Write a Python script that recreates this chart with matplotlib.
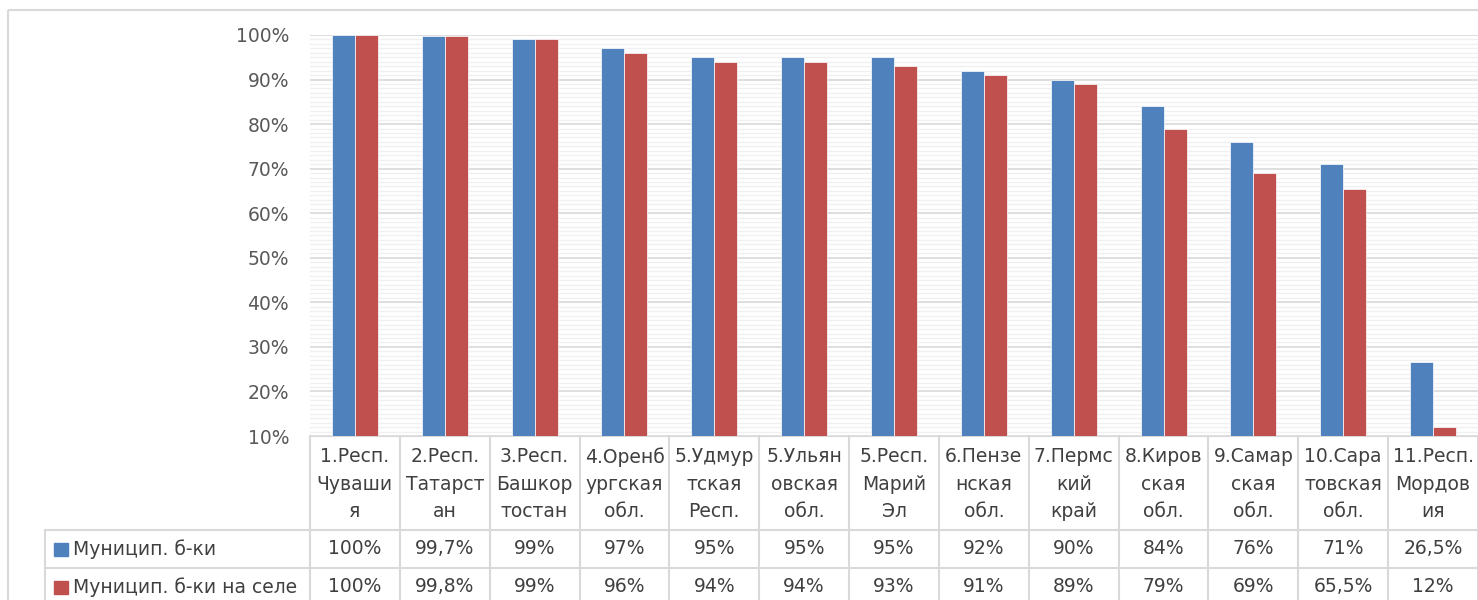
import numpy as np
import matplotlib
matplotlib.use('Agg')
import matplotlib.pyplot as plt
from matplotlib.transforms import blended_transform_factory
from matplotlib.patches import Rectangle

plt.rcParams['font.family'] = ['DejaVu Sans']

# chart data
regions = ['1.Респ.\nЧуваши\nя', '2.Респ.\nТатарст\nан', '3.Респ.\nБашкор\nтостан',
           '4.Оренб\nургская\nобл.', '5.Удмур\nтская\nРесп.', '5.Ульян\nовская\nобл.',
           '5.Респ.\nМарий\nЭл', '6.Пензе\nнская\nобл.', '7.Пермс\nкий\nкрай',
           '8.Киров\nская\nобл.', '9.Самар\nская\nобл.', '10.Сара\nтовская\nобл.',
           '11.Респ.\nМордов\nия']
series_names = ['Муницип. б-ки', 'Муницип. б-ки на селе']
libs_all = [100, 99.7, 99, 97, 95, 95, 95, 92, 90, 84, 76, 71, 26.5]
libs_rural = [100, 99.8, 99, 96, 94, 94, 93, 91, 89, 79, 69, 65.5, 12]
labels_all = ['100%', '99,7%', '99%', '97%', '95%', '95%', '95%', '92%', '90%', '84%', '76%', '71%', '26,5%']
labels_rural = ['100%', '99,8%', '99%', '96%', '94%', '94%', '93%', '91%', '89%', '79%', '69%', '65,5%', '12%']
colors = ['#4F81BD', '#C0504D']

W, H = 1478, 600
fs = 13.5
fig = plt.figure(figsize=(W / 100, H / 100), dpi=100)

# overlay in pixel coordinates for borders and the data table
over = fig.add_axes([0, 0, 1, 1], zorder=0)
over.set_xlim(0, W)
over.set_ylim(H, 0)
over.axis('off')
over.add_patch(Rectangle((8, 10), W + 20, H + 20, fill=False, ec='#d9d9d9', lw=1.5))

ax = fig.add_axes([310 / W, 1 - 436 / H, (W - 310) / W, (436 - 35) / H], zorder=1)
ax.patch.set_alpha(0)
x = np.arange(len(regions))
bw = 0.256
ax.bar(x - bw / 2, libs_all, bw, color=colors[0], edgecolor='#ffffff', linewidth=0.5, zorder=3)
ax.bar(x + bw / 2, libs_rural, bw, color=colors[1], edgecolor='#ffffff', linewidth=0.5, zorder=3)
ax.set_xlim(-0.5, len(regions) - 0.5)
ax.set_ylim(10, 100)
ax.set_yticks(np.arange(10, 101, 10))
ax.set_yticklabels([f'{v}%' for v in range(10, 101, 10)])
ax.set_yticks(np.arange(10, 101, 1), minor=True)
ax.grid(True, which='minor', axis='y', color='#f0f0f0', lw=1, zorder=0)
ax.grid(True, which='major', axis='y', color='#d9d9d9', lw=1.2, zorder=1)
ax.tick_params(axis='y', which='both', length=0, pad=15, labelsize=fs, labelcolor='#595959')
ax.tick_params(axis='x', which='both', length=0, labelbottom=False)
for s in ['top', 'right', 'left']:
    ax.spines[s].set_visible(False)
ax.spines['bottom'].set_color('#d9d9d9')

# data table under the axis
tr = blended_transform_factory(ax.transData, over.transData)
grid_c = '#d9d9d9'
txt_c = '#404040'
y_head_top, y_head_bot, y_row1_bot = 436, 530, 568
for i in range(len(regions) + 1):
    over.plot([i - 0.5, i - 0.5], [y_head_top, H + 5], color=grid_c, lw=1.5, transform=tr, clip_on=False)
over.plot([45, W], [y_head_bot, y_head_bot], color=grid_c, lw=1.5)
over.plot([45, W], [y_row1_bot, y_row1_bot], color=grid_c, lw=1.5)
over.plot([45, 45], [y_head_bot, H + 5], color=grid_c, lw=1.5)

for i, name in enumerate(regions):
    over.text(i, 484, name, transform=tr, ha='center', va='center', fontsize=fs,
              color=txt_c, linespacing=1.55)
    over.text(i, 549, labels_all[i], transform=tr, ha='center', va='center', fontsize=fs, color=txt_c)
    over.text(i, 587, labels_rural[i], transform=tr, ha='center', va='center', fontsize=fs, color=txt_c)

for k, (name, yc) in enumerate(zip(series_names, [549, 587])):
    over.add_patch(Rectangle((54, yc - 6.5), 14, 13, color=colors[k]))
    over.text(73, yc, name, ha='left', va='center', fontsize=fs, color=txt_c)

fig.savefig('out.png', dpi=100)
